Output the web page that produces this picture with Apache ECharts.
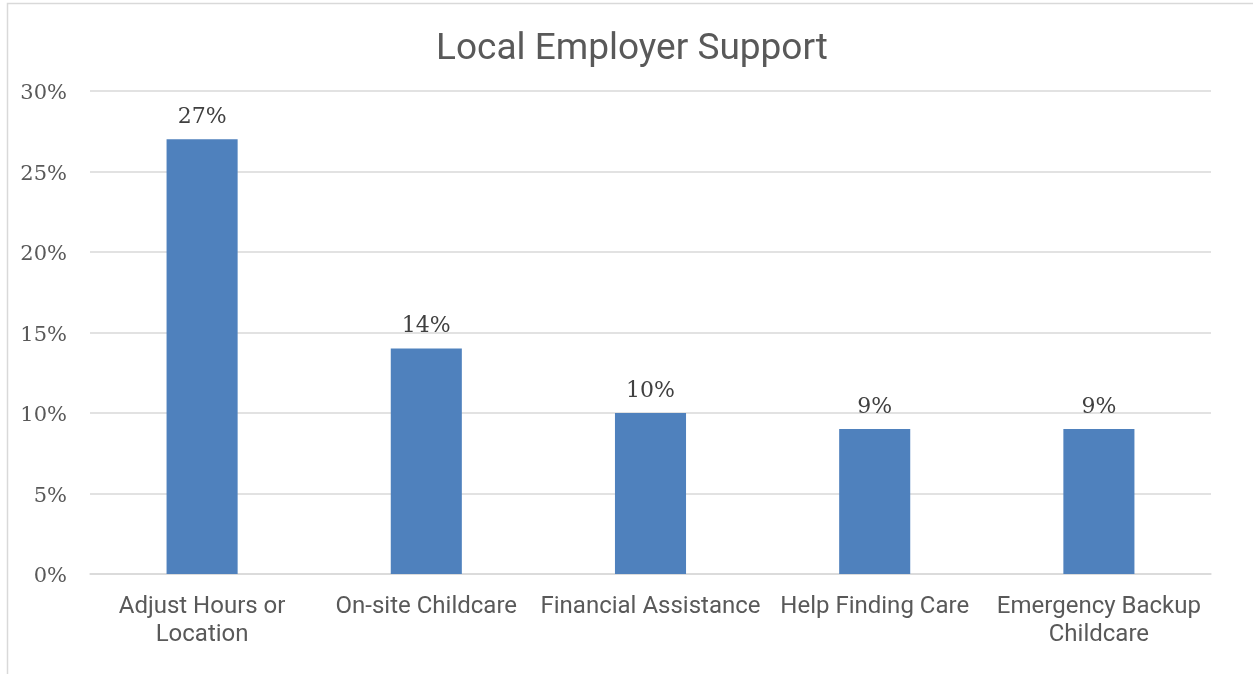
<!DOCTYPE html>
<html><head><meta charset="utf-8">
<script src="https://cdn.jsdelivr.net/npm/echarts@6/dist/echarts.min.js"></script>
<style>html,body{margin:0;padding:0;background:#fff}#c{width:1253px;height:674px}</style>
</head><body><div id="c"></div>
<script>
const title = 'Local Employer Support';
const categories = ['Adjust Hours or\nLocation', 'On-site Childcare', 'Financial Assistance', 'Help Finding Care', 'Emergency Backup\nChildcare'];
const values = [27, 14, 10, 9, 9];
const yTicks = {min: 0, max: 30, interval: 5};

const chart = echarts.init(document.getElementById('c'));
chart.setOption({
  animation: false,
  graphic: [{type: 'rect', shape: {x: 7.5, y: 3.5, width: 1300, height: 700}, style: {fill: 'none', stroke: '#d9d9d9', lineWidth: 1.5}, silent: true}],
  title: {text: title, left: 627, top: 26, textAlign: 'center',
    textStyle: {fontFamily: 'Roboto', fontSize: 37, fontWeight: 'normal', color: '#595959'}},
  grid: {left: 90, right: 42, top: 91, bottom: 100, containLabel: false},
  xAxis: {type: 'category', data: categories,
    axisLine: {lineStyle: {color: '#d9d9d9', width: 1.5}}, axisTick: {show: false},
    axisLabel: {interval: 0, fontFamily: 'Roboto', fontSize: 24, color: '#595959', lineHeight: 28, margin: 19}},
  yAxis: {type: 'value', min: yTicks.min, max: yTicks.max, interval: yTicks.interval,
    axisLine: {show: false}, axisTick: {show: false},
    splitLine: {lineStyle: {color: '#d9d9d9', width: 1.5}},
    axisLabel: {formatter: v => '{a|' + v + '%}', margin: 23,
      rich: {a: {fontFamily: 'DejaVu Serif', fontSize: 21, color: '#595959', padding: [6, 0, 0, 0]}}}},
  series: [{type: 'bar', data: values, barWidth: '31.7%',
    itemStyle: {color: '#4f81bd'},
    label: {show: true, position: 'top', formatter: '{c}%', distance: 11,
      fontFamily: 'DejaVu Serif', fontSize: 22, color: '#404040'}}]
});
</script></body></html>
